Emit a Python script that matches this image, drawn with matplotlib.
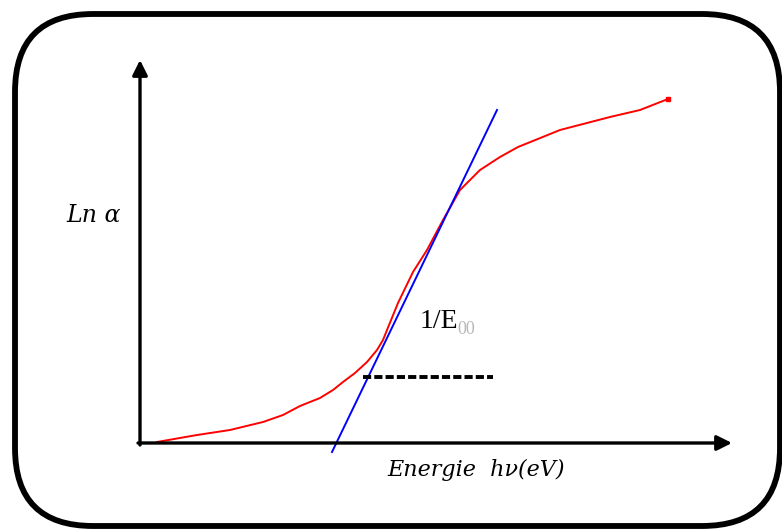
import matplotlib
matplotlib.use("Agg")
import matplotlib.pyplot as plt
from matplotlib.patches import FancyBboxPatch

plt.rcParams['font.family'] = ['Liberation Serif', 'DejaVu Serif']

# absorption edge: ln(alpha) against photon energy (arbitrary units)
energy = [0.17, 0.57, 0.90, 1.23, 1.43, 1.60, 1.80, 1.93, 2.03, 2.15,
          2.27, 2.37, 2.43, 2.47, 2.58, 2.73, 2.87, 3.03, 3.20, 3.40,
          3.60, 3.78, 4.20, 4.70, 5.00, 5.28]
ln_alpha = [0.01, 0.08, 0.13, 0.21, 0.28, 0.37, 0.45, 0.53, 0.61, 0.70,
            0.81, 0.93, 1.03, 1.13, 1.40, 1.71, 1.93, 2.23, 2.53, 2.73,
            2.86, 2.96, 3.13, 3.26, 3.33, 3.44]

# tangent through the exponential (Urbach) part
tangent_x = [1.92, 3.57]
tangent_y = [-0.09, 3.33]

# horizontal reference segment for the slope
step_x = [2.23, 3.53]
step_y = [0.66, 0.66]

X_MAX, Y_MAX = 5.92, 3.83

fig = plt.figure(figsize=(7.82, 5.29), dpi=100)

# frame with rounded corners
bg = fig.add_axes([0, 0, 1, 1])
bg.set_xlim(0, 782)
bg.set_ylim(529, 0)
bg.axis('off')
frame = FancyBboxPatch((15, 14), 765, 512,
                       boxstyle="round,pad=0,rounding_size=78",
                       fc='white', ec='black', lw=4.2)
bg.add_patch(frame)

ax = fig.add_axes([140 / 782, (529 - 443) / 529, 592 / 782, 383 / 529])
ax.set_xlim(0, X_MAX)
ax.set_ylim(0, Y_MAX)
ax.axis('off')

arrow = dict(arrowstyle='-|>,head_length=0.9,head_width=0.45',
             color='black', lw=2.4, shrinkA=0, shrinkB=0)
ax.annotate('', xy=(X_MAX, 0), xytext=(-0.02, 0), arrowprops=arrow,
            annotation_clip=False)
ax.annotate('', xy=(0, Y_MAX), xytext=(0, -0.02), arrowprops=arrow,
            annotation_clip=False)

ax.plot(energy, ln_alpha, color='red', lw=1.4, clip_on=False)
ax.plot(energy[-1], ln_alpha[-1], marker='s', ms=3.5, color='red',
        clip_on=False)
ax.plot(tangent_x, tangent_y, color='blue', lw=1.4, clip_on=False)
ax.plot(step_x, step_y, color='black', lw=2.8, linestyle=(0, (2.1, 0.8)),
        solid_capstyle='butt')

label_font = dict(family=['DejaVu Serif'], style='italic')
ax.text(-0.74, 2.28, 'Ln α', fontsize=17, ha='left', va='center',
        **label_font)
ax.text(2.47, -0.27, 'Energie  hν(eV)', fontsize=16, ha='left',
        va='center', **label_font)
ax.text(2.80, 1.21, '1/E', fontsize=20, ha='left', va='center')
ax.text(3.17, 1.14, '00', fontsize=13, color='#b8b8b8', ha='left',
        va='center')

fig.savefig('out.png', dpi=100)
